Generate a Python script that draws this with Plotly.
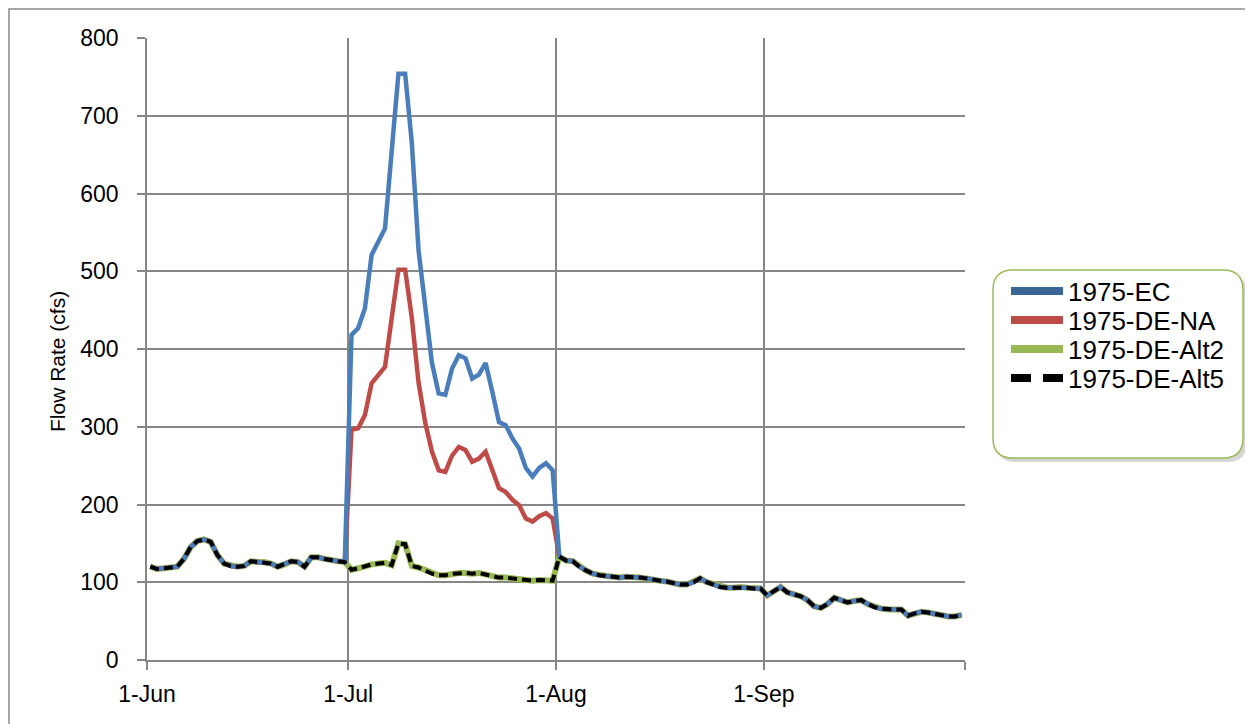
import pandas as pd
import plotly.graph_objects as go

# daily flow (cfs), Jun 1 - Sep 30 1975
june_all = [120, 117, 118, 119, 120, 130, 145, 153, 155, 152, 135, 124, 121, 120, 121,
            127, 126, 126, 124, 120, 123, 127, 126, 120, 132, 132, 130, 128, 127, 126]
jul_ec = [418, 427, 452, 521, 538, 555, 655, 754, 754, 665, 527, 452, 382, 343, 341, 375,
          392, 388, 362, 367, 382, 345, 306, 302, 285, 272, 247, 236, 247, 253, 244]
jul_na = [296, 298, 315, 356, 367, 377, 440, 502, 502, 440, 357, 305, 268, 244, 242, 263,
          274, 270, 255, 259, 268, 245, 221, 216, 206, 199, 182, 178, 185, 189, 182]
jul_alt2 = [116, 118, 121, 123, 124, 125, 122, 150, 149, 121, 119, 115, 111, 109, 109, 111,
            112, 112, 111, 112, 110, 108, 106, 106, 105, 104, 103, 102, 103, 103, 102]
jul_alt5 = list(jul_alt2)
aug_all = [133, 128, 127, 120, 115, 111, 109, 108, 107, 106, 107, 107, 106, 105, 103, 102,
           101, 99, 97, 97, 100, 105, 100, 97, 94, 93, 93, 94, 93, 92, 92]
sep_all = [83, 88, 94, 87, 85, 82, 77, 69, 67, 72, 80, 77, 74, 76, 77, 72, 68, 66, 65, 65,
           65, 57, 60, 62, 61, 59, 57, 56, 56, 58]

series_names = ["1975-EC", "1975-DE-NA", "1975-DE-Alt2", "1975-DE-Alt5"]
tick_dates = ["1975-06-01", "1975-07-01", "1975-08-01", "1975-09-01", "1975-10-01"]
tick_text = ["1-Jun", "1-Jul", "1-Aug", "1-Sep", ""]

# points sit in the middle of each day (Excel "between tick marks")
dates = pd.date_range("1975-06-01 12:00", periods=122, freq="D")
ec = june_all + jul_ec + aug_all + sep_all
na = june_all + jul_na + aug_all + sep_all
alt2 = june_all + jul_alt2 + aug_all + sep_all
alt5 = june_all + jul_alt5 + aug_all + sep_all

BLUE, RED, GREEN = "#4A7EBB", "#BE4B48", "#98B954"
FONT = "Liberation Sans, Arial, sans-serif"

# page has an 8px body margin, so work in screen px and shift
OFF = 8
W, H = 1253 - OFF, 724 - OFF
L, R, T, B = 147 - OFF, 965 - OFF, 38 - OFF, 660 - OFF


def xp(px):
    return (px - OFF - L) / (R - L)


def yp(py):
    return (B - (py - OFF)) / (B - T)


def rounded(x0, y0, x1, y1, r):
    pts = [
        ("M", x0 + r, y0), ("L", x1 - r, y0), ("Q", x1, y0, x1, y0 + r),
        ("L", x1, y1 - r), ("Q", x1, y1, x1 - r, y1), ("L", x0 + r, y1),
        ("Q", x0, y1, x0, y1 - r), ("L", x0, y0 + r), ("Q", x0, y0, x0 + r, y0),
    ]
    out = []
    for p in pts:
        if p[0] == "Q":
            out.append(f"Q{xp(p[1]):.5f},{yp(p[2]):.5f} {xp(p[3]):.5f},{yp(p[4]):.5f}")
        else:
            out.append(f"{p[0]}{xp(p[1]):.5f},{yp(p[2]):.5f}")
    return " ".join(out) + " Z"


fig = go.Figure()

# plot order: green under, then red, blue, dashed black on top
fig.add_trace(go.Scatter(x=dates, y=alt2, mode="lines", line=dict(color=GREEN, width=6),
                         showlegend=False, hoverinfo="skip"))
fig.add_trace(go.Scatter(x=dates, y=na, mode="lines", line=dict(color=RED, width=4.5),
                         showlegend=False))
fig.add_trace(go.Scatter(x=dates, y=ec, mode="lines", line=dict(color=BLUE, width=4.5),
                         showlegend=False))
fig.add_trace(go.Scatter(x=dates, y=alt5, mode="lines",
                         line=dict(color="black", width=4, dash="9px,5px"),
                         showlegend=False))

# legend entries, one legend per row so the spacing matches the original
leg_styles = [dict(color="#3A6596", width=8), dict(color=RED, width=8),
              dict(color=GREEN, width=8), dict(color="black", width=8, dash="20px,12px")]
row_y = [291, 320, 349, 378]
legend_keys = ["legend", "legend2", "legend3", "legend4"]
legends = {}
for name, st, ky, ry in zip(series_names, leg_styles, legend_keys, row_y):
    fig.add_trace(go.Scatter(x=[None], y=[None], mode="lines", name=name, line=st, legend=ky))
    legends[ky] = dict(x=xp(1006), y=yp(ry), xanchor="left", yanchor="middle",
                       bgcolor="rgba(0,0,0,0)", borderwidth=0, itemwidth=52,
                       font=dict(size=26, family=FONT, color="black"))

shapes = [
    dict(type="rect", xref="paper", yref="paper", x0=xp(9), y0=yp(9), x1=xp(1300), y1=yp(800),
         line=dict(color="#8C8C8C", width=1.5), fillcolor="rgba(0,0,0,0)"),
    dict(type="path", xref="paper", yref="paper", path=rounded(996, 274, 1247, 462, 20),
         fillcolor="rgba(0,0,0,0.16)", line=dict(width=0)),
    dict(type="path", xref="paper", yref="paper", path=rounded(993, 270, 1243, 458, 20),
         fillcolor="white", line=dict(color="#9BBB59", width=1.5)),
]

fig.update_layout(
    width=W, height=H,
    margin=dict(l=L, r=W - R, t=T, b=H - B),
    plot_bgcolor="white", paper_bgcolor="white",
    font=dict(family=FONT, color="black"),
    shapes=shapes,
    showlegend=True,
    annotations=[dict(text="Flow Rate (cfs)", x=xp(57), y=yp(362), xref="paper", yref="paper",
                      xanchor="center", yanchor="middle",
                      textangle=-90, showarrow=False, font=dict(size=21, family=FONT))],
    **legends,
)

fig.update_xaxes(
    type="date", range=["1975-06-01", "1975-10-01"],
    tickvals=tick_dates, ticktext=tick_text,
    showgrid=True, gridcolor="#878787", gridwidth=1.5,
    showline=True, linecolor="#878787", linewidth=1.5,
    ticks="outside", ticklen=8, tickcolor="#878787", tickwidth=1.5,
    tickfont=dict(size=23, family=FONT), ticklabelstandoff=5,
    zeroline=False,
)
fig.update_yaxes(
    range=[0, 800], dtick=100,
    showgrid=True, gridcolor="#878787", gridwidth=1.5,
    showline=True, linecolor="#878787", linewidth=1.5,
    ticks="outside", ticklen=8, tickcolor="#878787", tickwidth=1.5,
    tickfont=dict(size=23, family=FONT), ticklabelstandoff=14,
    zeroline=False,
)

fig.write_html("out.html")
